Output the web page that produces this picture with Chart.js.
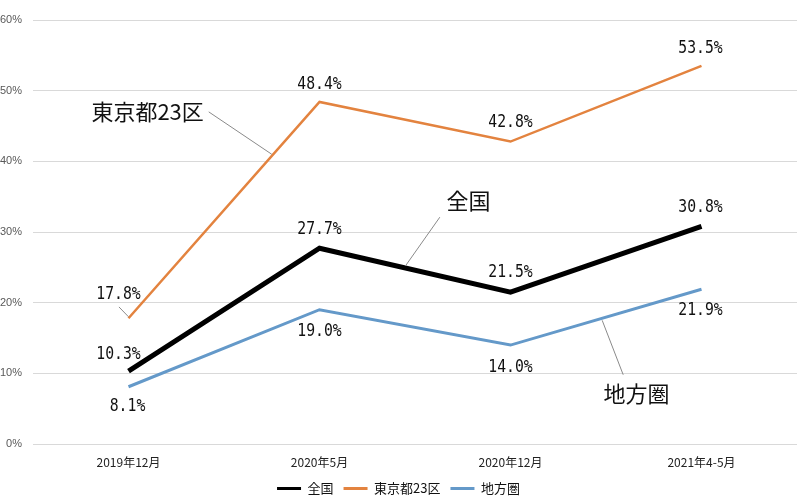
<!DOCTYPE html>
<html>
<head>
<meta charset="utf-8">
<script src="https://cdn.jsdelivr.net/npm/chart.js@4.4.1/dist/chart.umd.min.js"></script>
<style>
  html,body{margin:0;padding:0;background:#fff;}
  #wrap{width:800px;height:501px;position:relative;}
</style>
</head>
<body>
<div id="wrap"><canvas id="c" width="800" height="501"></canvas></div>
<script>
// ---- data ----
const categories = ['2019年12月', '2020年5月', '2020年12月', '2021年4-5月'];
const seriesNames = ['全国', '東京都23区', '地方圏'];
const zenkoku = [10.3, 27.7, 21.5, 30.8];
const tokyo23 = [17.8, 48.4, 42.8, 53.5];
const chiho = [8.1, 19.0, 14.0, 21.9];
const yTicks = [0, 10, 20, 30, 40, 50, 60];

// ---- styling / placement (not data) ----
const colors = ['#000000', '#E3833F', '#6499C9'];
const widths = [5, 2.5, 3];
const labelOffsets = [
  [[-10, -17], [0, -19], [0, -20], [-1, -19]],
  [[-10, -24], [0, -18], [0, -19], [-1, -18]],
  [[-1, 20], [0, 22], [0, 22], [-1, 21]]
];
// callouts positioned in data space: [categoryIndex, value]
const callouts = [
  {text: seriesNames[1], at: [0.10, 47.0], line: [[0.42, 47.0], [0.75, 41.0]]},
  {text: seriesNames[0], at: [1.78, 34.4], line: [[1.63, 32.1], [1.45, 25.2]]},
  {text: seriesNames[2], at: [2.66, 7.1], line: [[2.48, 17.5], [2.59, 9.8]]},
  {text: '', at: null, line: [[-0.05, 19.4], [0.0, 18.0]]}
];

const labelPlugin = {
  id: 'labels',
  afterLayout(chart) {
    if (chart.legend) { chart.legend.top += 4; chart.legend.bottom += 4; }
  },
  afterDatasetsDraw(chart) {
    const ctx = chart.ctx;
    const xs = chart.scales.x, ys = chart.scales.y;
    ctx.save();
    callouts.forEach(c => {
      const p1 = c.line[0], p2 = c.line[1];
      ctx.beginPath();
      ctx.strokeStyle = '#8a8a8a';
      ctx.lineWidth = 1;
      ctx.moveTo(xs.getPixelForValue(p1[0]), ys.getPixelForValue(p1[1]));
      ctx.lineTo(xs.getPixelForValue(p2[0]), ys.getPixelForValue(p2[1]));
      ctx.stroke();
      if (c.at) {
        ctx.fillStyle = '#111';
        ctx.font = '400 22px "Noto Sans CJK JP", sans-serif';
        ctx.textAlign = 'center';
        ctx.textBaseline = 'middle';
        ctx.fillText(c.text, xs.getPixelForValue(c.at[0]), ys.getPixelForValue(c.at[1]));
      }
    });
    chart.data.datasets.forEach((ds, di) => {
      const meta = chart.getDatasetMeta(di);
      meta.data.forEach((pt, i) => {
        const off = labelOffsets[di][i];
        const txt = ds.data[i].toFixed(1) + '%';
        ctx.save();
        ctx.translate(pt.x + off[0], pt.y + off[1]);
        ctx.scale(0.82, 1);
        ctx.fillStyle = '#111';
        ctx.font = '18px "DejaVu Sans Mono", monospace';
        ctx.textAlign = 'center';
        ctx.textBaseline = 'middle';
        ctx.fillText(txt, 0, 0);
        ctx.restore();
      });
    });
    ctx.restore();
  }
};

new Chart(document.getElementById('c'), {
  type: 'line',
  data: {
    labels: categories,
    datasets: [zenkoku, tokyo23, chiho].map((d, i) => ({
      label: seriesNames[i],
      data: d,
      borderColor: colors[i],
      backgroundColor: colors[i],
      borderWidth: widths[i],
      pointRadius: 0,
      tension: 0,
      fill: false
    }))
  },
  options: {
    responsive: false,
    animation: false,
    devicePixelRatio: 1,
    layout: {padding: {top: 20, right: 3, left: 0, bottom: 0}},
    plugins: {
      tooltip: {enabled: false},
      legend: {
        position: 'bottom',
        labels: {
          color: '#111',
          font: {family: '"Noto Sans CJK JP", sans-serif', size: 13},
          boxWidth: 24,
          boxHeight: 3,
          padding: 10,
          generateLabels(chart) {
            return chart.data.datasets.map((ds, i) => ({
              text: ds.label,
              fillStyle: ds.borderColor,
              strokeStyle: ds.borderColor,
              lineWidth: 0,
              hidden: false,
              datasetIndex: i,
              fontColor: '#111'
            }));
          }
        }
      }
    },
    scales: {
      x: {
        offset: true,
        grid: {display: false, drawTicks: false},
        border: {display: false},
        ticks: {
          color: '#222',
          font: {family: '"Noto Sans CJK JP", sans-serif', size: 12},
          padding: 11,
          maxRotation: 0
        },
        afterFit(scale) { scale.height = 24; }
      },
      y: {
        min: yTicks[0],
        max: yTicks[yTicks.length - 1],
        grid: {color: '#d9d9d9', lineWidth: 1, drawTicks: false},
        border: {display: false},
        afterBuildTicks(scale) { scale.ticks = yTicks.map(v => ({value: v})); },
        ticks: {
          color: '#595959',
          font: {family: '"Liberation Sans", Arial, sans-serif', size: 11},
          padding: 11,
          callback: v => v + '%'
        },
        afterFit(scale) { scale.width = 33; }
      }
    }
  },
  plugins: [labelPlugin]
});
</script>
</body>
</html>
